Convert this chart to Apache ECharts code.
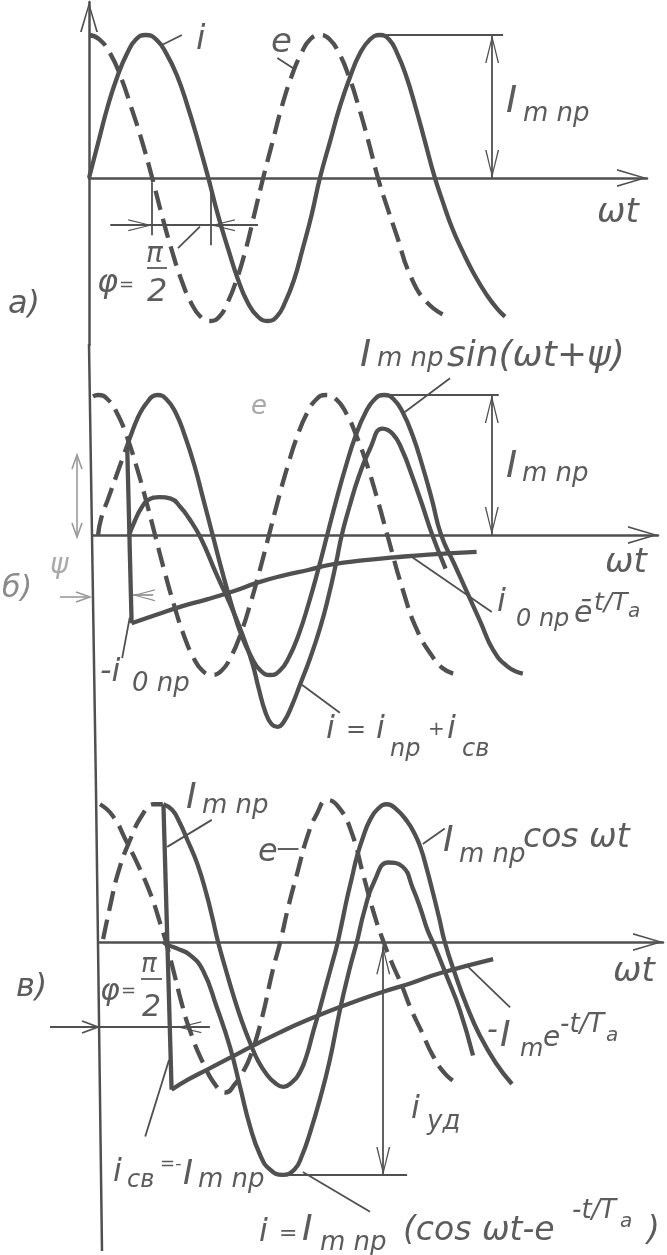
<!DOCTYPE html>
<html>
<head>
<meta charset="utf-8">
<script src="https://cdn.jsdelivr.net/npm/echarts@6/dist/echarts.min.js"></script>
<style>
html,body{margin:0;padding:0;background:#fff;}
#c{width:667px;height:1255px;}
</style>
</head>
<body>
<div id="c"></div>
<script>
// ===== DATA (x = ωt in degrees from the vertical axis, y = current / I_m np) =====
// Panel а
const aE = [[0,1],[16,0.97],[33,0.87],[49,0.71],[65,0.5],[82,0.26],[98,0],[113,-0.26],[128,-0.5],[143,-0.71],[158,-0.87],[173,-0.97],[188,-1],[202,-0.97],[215,-0.87],[229,-0.71],[243,-0.5],[256,-0.26],[270,0],[285,0.26],[299,0.5],[314,0.71],[329,0.87],[343,0.97],[358,1],[373,0.97],[388,0.87],[403,0.71],[418,0.5],[433,0.26],[448,0],[462,-0.2],[477,-0.4],[498,-0.68],[524,-0.87],[555,-0.97]];
const aI = [[0,0],[15,0.26],[29,0.5],[44,0.71],[59,0.87],[73,0.97],[88,1],[104,0.97],[120,0.87],[137,0.71],[153,0.5],[169,0.26],[185,0],[200,-0.26],[216,-0.5],[231,-0.71],[246,-0.87],[262,-0.97],[277,-1],[291,-0.97],[304,-0.87],[318,-0.71],[331,-0.5],[345,-0.26],[358,0],[374,0.26],[389,0.5],[405,0.71],[420,0.87],[436,0.97],[451,1],[465,0.97],[478,0.87],[492,0.71],[506,0.5],[520,0.27],[535,0.02],[548,-0.16],[563,-0.35],[580,-0.52],[598,-0.68],[617,-0.82],[632,-0.91],[645,-0.97]];
// Panel б
const bE = [[0,0.99],[8,1],[23,0.97],[38,0.87],[53,0.71],[68,0.5],[83,0.26],[98,0],[113,-0.26],[128,-0.5],[143,-0.71],[158,-0.87],[173,-0.97],[188,-1],[203,-0.97],[218,-0.87],[233,-0.71],[248,-0.5],[263,-0.26],[278,0],[293,0.26],[308,0.5],[323,0.71],[338,0.87],[353,0.97],[368,1],[384,0.97],[400,0.87],[416,0.71],[433,0.5],[449,0.26],[465,0],[490,-0.4],[512,-0.68],[535,-0.86],[552,-0.95],[569,-0.99]];
const bPre = [[8,0],[13,0.12],[24,0.26],[39,0.45],[54,0.64]];
const bSteady = [[54,0.64],[62,0.74],[70,0.83],[78,0.9],[86,0.95],[94,0.99],[102,1],[116,0.97],[131,0.87],[145,0.71],[160,0.5],[174,0.26],[189,0],[204,-0.26],[219,-0.5],[234,-0.71],[250,-0.87],[265,-0.97],[280,-1],[295,-0.97],[310,-0.87],[325,-0.71],[340,-0.5],[355,-0.26],[370,0],[385,0.26],[400,0.5],[415,0.71],[430,0.87],[445,0.97],[460,1],[475,0.97],[490,0.87],[505,0.71],[520,0.5],[535,0.26],[550,0],[570,-0.2],[591,-0.41],[612,-0.62],[632,-0.82],[655,-0.94],[679,-0.99]];
const bJump = [[54,0.64],[61,-0.63]];
const bFree = [[61,-0.63],[100,-0.57],[140,-0.51],[180,-0.46],[223,-0.4],[260,-0.34],[300,-0.29],[340,-0.25],[378,-0.21],[430,-0.18],[476,-0.16],[530,-0.14],[606,-0.12]];
const bTotal = [[57,0],[66,0.1],[76,0.19],[87,0.25],[105,0.27],[123,0.26],[138,0.2],[150,0.13],[170,-0.02],[195,-0.28],[222,-0.55],[240,-0.76],[252,-0.92],[262,-1.1],[272,-1.26],[282,-1.35],[292,-1.37],[302,-1.33],[314,-1.22],[327,-1.07],[343,-0.88],[359,-0.66],[372,-0.44],[384,-0.2],[393,0],[405,0.2],[420,0.42],[438,0.62],[457,0.76],[474,0.72],[489,0.6],[501,0.46],[519,0.23],[536,0],[557,-0.24]];
// Panel в
const cE = [[0,0.97],[20,0.89],[43,0.7],[64,0.51],[82,0.32],[96,0.13],[105,0],[118,-0.22],[130,-0.43],[143,-0.62],[164,-0.85],[186,-1.02],[200,-1.06],[215,-1],[227,-0.92],[239,-0.81],[257,-0.55],[275,-0.2],[287,0],[300,0.25],[315,0.5],[330,0.74],[345,0.9],[362,1],[380,0.95],[400,0.78],[420,0.46],[435,0.22],[450,0.02],[465,-0.15],[480,-0.3],[495,-0.47],[512,-0.63],[530,-0.8],[550,-0.93],[570,-1]];
const cPre = [[5,0.02],[16,0.25],[29,0.49],[48,0.72],[68,0.9],[85,0.97],[100,0.97]];
const cSteady = [[101,0.97],[115,0.93],[127,0.84],[139,0.72],[155,0.55],[170,0.33],[179,0.17],[188,0],[200,-0.19],[212,-0.37],[226,-0.56],[240,-0.72],[252,-0.84],[265,-0.93],[278,-0.99],[292,-1.02],[305,-0.99],[318,-0.92],[329,-0.8],[339,-0.64],[350,-0.47],[361,-0.29],[369,-0.16],[377,-0.03],[385,0.13],[393,0.3],[401,0.45],[409,0.6],[419,0.74],[430,0.86],[443,0.94],[457,0.97],[473,0.93],[489,0.85],[500,0.77],[510,0.67],[520,0.52],[530,0.35],[540,0.17],[549,0],[565,-0.22],[584,-0.45],[605,-0.66],[630,-0.85],[656,-1]];
const cJump = [[101,0.97],[114,-1.04]];
const cFree = [[114,-1.04],[140,-0.97],[170,-0.9],[205,-0.82],[244,-0.73],[285,-0.64],[330,-0.55],[393,-0.44],[451,-0.35],[495,-0.29],[541,-0.22],[626,-0.12]];
const cTotal = [[101,0],[108,-0.02],[125,-0.05],[143,-0.09],[164,-0.2],[186,-0.46],[207,-0.74],[223,-1.02],[239,-1.3],[255,-1.5],[270,-1.6],[291,-1.64],[310,-1.6],[322,-1.5],[334,-1.35],[350,-1.11],[366,-0.83],[382,-0.48],[398,-0.18],[409,0],[421,0.22],[437,0.43],[459,0.56],[482,0.53],[498,0.38],[510,0.24],[521,0.09],[533,-0.03],[552,-0.24],[573,-0.48],[594,-0.8]];

// ===== ANNOTATION GEOMETRY (data coords) =====
const aImLevel = [[451,1],[642,1]];
const aImDim = [[625,0],[625,1]];
const aPhiLine = [[33,-0.33],[262,-0.33]];
const aPhiExt = [[[98,-0.03],[98,-0.4]],[[189,-0.03],[189,-0.47]]];
const aLeaders = [[[138,-0.49],[172,-0.34]],[[113,0.93],[144,1]],[[292,0.84],[319,0.76]]];
const bImLevel = [[458,1],[641,1]];
const bImDim = [[630,0],[630,1]];
const bLeaders = [[[564,1.12],[490,0.87]],[[505,-0.16],[630,-0.55]],[[46,-0.88],[58,-0.59]],[[330,-1.07],[390,-1.27]]];
const cUdLevel = [[291,-1.64],[489,-1.64]];
const cUdDim = [[451,-0.03],[451,-1.64]];
const cPhiLine = [[0,-0.6],[175,-0.6]];
const cLeaders = [[[178,0.86],[107,0.67]],[[283,0.66],[316,0.66]],[[549,0.8],[514,0.69]],[[585,-0.17],[653,-0.46]],[[72,-1.37],[110,-0.83]],[[323,-1.62],[430,-1.9]]];

// ===== LAYOUT / STYLE =====
const INK = '#505050', TXT = '#5c5c5c', FAINT = '#9a9a9a';
const CHEV = 'path://M9,0 L18,30 L16.2,30 L9,5 L1.8,30 L0,30 Z';
const K = [0.645, 0.633, 0.628];
const X0 = [89, 93, 100];
const TIP = [647, 658, 663];
const TOPS = [2, 345, 790];
const BOTS = [345, 790, 1250];
const Y0 = [178, 535, 942];
const AMP = [143, 140, 142];

const grids = [], xAxes = [], yAxes = [];
for (let i = 0; i < 3; i++) {
  grids.push({left: X0[i], top: TOPS[i], width: TIP[i] - X0[i], height: BOTS[i] - TOPS[i], containLabel: false, outerBoundsMode: 'none'});
  xAxes.push({type: 'value', gridIndex: i, min: 0, max: (TIP[i] - X0[i]) / K[i],
    axisLine: {show: true, onZero: true, lineStyle: {color: INK, width: 2.5}, symbol: ['none', CHEV], symbolSize: [18, 30], symbolOffset: [0, -15]},
    axisTick: {show: false}, axisLabel: {show: false}, splitLine: {show: false}});
  yAxes.push({type: 'value', gridIndex: i, max: (Y0[i] - TOPS[i]) / AMP[i], min: -(BOTS[i] - Y0[i]) / AMP[i],
    axisLine: {show: i === 0, onZero: false, lineStyle: {color: INK, width: 2.5}, symbol: ['none', CHEV], symbolSize: [18, 30], symbolOffset: [0, -15]},
    axisTick: {show: false}, axisLabel: {show: false}, splitLine: {show: false}});
}

function seg(p, q, o) {
  o = o || {};
  const sz = o.size || [13, 24];
  const ls = {color: o.color || INK, width: o.w || 1.8, type: 'solid'};
  const end = (c, arrow) => ({coord: c, symbol: arrow ? CHEV : 'none', symbolSize: sz, symbolOffset: [0, sz[1] / 2], lineStyle: ls});
  return [end(p, o.a0), end(q, o.a1)];
}
function curve(data, gi, opt) {
  opt = opt || {};
  return {type: 'line', xAxisIndex: gi, yAxisIndex: gi, data: data, symbol: 'none', showSymbol: false,
    smooth: opt.smooth === undefined ? 0.5 : opt.smooth, clip: false, silent: true, z: opt.z || 3,
    lineStyle: {color: opt.color || INK, width: opt.w || 4.3, type: opt.dash ? [20, 9] : 'solid', cap: 'butt', join: 'round'},
    markLine: opt.marks ? {silent: true, symbol: ['none', 'none'], label: {show: false}, emphasis: {disabled: true}, animation: false,
      lineStyle: {type: 'solid', color: INK, width: 1.8}, data: opt.marks} : undefined};
}

const aMarks = [
  seg(aImLevel[0], aImLevel[1]),
  seg(aImDim[0], aImDim[1], {a0: true, a1: true, size: [14, 28]}),
  seg(aPhiLine[0], aPhiLine[1]),
  seg([60, -0.33], [98, -0.33], {a1: true, size: [12, 24]}),
  seg([225, -0.33], [189, -0.33], {a1: true, size: [12, 24]}),
  ...aPhiExt.map(s => seg(s[0], s[1])),
  ...aLeaders.map(s => seg(s[0], s[1]))
];
const bMarks = [
  seg(bImLevel[0], bImLevel[1]),
  seg(bImDim[0], bImDim[1], {a0: true, a1: true, size: [14, 28]}),
  seg([95, -0.43], [63, -0.43], {a1: true, size: [12, 22], color: '#8a8a8a', w: 1.6}),
  ...bLeaders.map(s => seg(s[0], s[1]))
];
const cMarks = [
  seg(cUdLevel[0], cUdLevel[1]),
  seg(cUdDim[0], cUdDim[1], {a0: true, a1: true, size: [14, 28]}),
  seg(cPhiLine[0], cPhiLine[1]),
  seg([170, -0.6], [123, -0.6], {a1: true, size: [12, 24]}),
  ...cLeaders.map(s => seg(s[0], s[1]))
];

const series = [
  curve(aE, 0, {dash: true, marks: aMarks}),
  curve(aI, 0),
  curve(bE, 1, {dash: true, marks: bMarks}),
  curve(bPre, 1, {dash: true}),
  curve(bSteady, 1),
  curve(bJump, 1, {smooth: false}),
  curve(bFree, 1),
  curve(bTotal, 1),
  curve(cE, 2, {dash: true, marks: cMarks}),
  curve(cPre, 2, {dash: true}),
  curve(cSteady, 2),
  curve(cJump, 2, {smooth: false}),
  curve(cFree, 2),
  curve(cTotal, 2)
];

// ===== TEXT (x-left, y-middle, text, size, color) =====
const LABELS = [
  [196,40,'i',34],[271,43,'e',34],
  [506,102,'I',38],[523,114,'m np',26],[597,213,'ωt',34],
  [97,284,'φ',32],[119,285,'=',18],[146,255,'π',28],[147,293,'2',32],[8,305,'а)',32],
  [251,407,'е',26,'#a8a8a8'],
  [360,356,'I',38],[377,359,'m np',26],[447,357,'sin(ωt+ψ)',36],
  [506,467,'I',38],[522,474,'m np',26],[605,563,'ωt',34],
  [497,603,'i',32],[516,620,'0 np',24],[574,614,'ē',30],[594,603,'t/T',25],[628,612,'a',20],
  [100,673,'-i',32],[132,684,'0 np',26],
  [326,730,'i',32],[346,731,'=',24],[376,730,'i',32],[390,750,'np',24],[428,730,'+',20],[447,730,'i',32],[462,750,'cв',24],
  [2,589,'б)',30,'#8a8a8a'],[50,566,'ψ',28,'#aaaaaa'],
  [186,799,'I',36],[202,806,'m np',26],[258,853,'e',32],
  [443,842,'I',36],[459,855,'m np',26],[523,838,'cos ωt',33],[613,972,'ωt',34],
  [487,1031,'-',30],[500,1037,'I',36],[520,1050,'m',24],[543,1039,'e',28],[560,1025,'-t/T',26],[606,1036,'a',20],
  [411,1110,'i',32],[427,1122,'уд',26],
  [100,992,'φ',30],[121,991,'=',18],[141,965,'π',26],[142,1008,'2',30],[16,988,'в)',32],
  [113,1173,'i',32],[127,1181,'cв',24],[160,1164,'=-',18],[183,1175,'I',34],[198,1180,'m np',26],
  [259,1233,'i',32],[279,1234,'=',22],[302,1231,'I',36],[320,1243,'m np',26],[403,1231,'(cos ωt-e',33],[572,1211,'-t/T',26],[620,1222,'a',20],[647,1231,')',33]
];

const graphic = LABELS.map(t => ({
  type: 'text', x: t[0], y: t[1], silent: true, z: 10,
  style: {text: t[2], font: 'italic ' + t[3] + 'px "DejaVu Sans"', fill: t[4] || TXT,
    align: 'left', verticalAlign: 'middle', textAlign: 'left', textVerticalAlign: 'middle'}
}));
function gl(points, color, w) {
  graphic.push({type: 'polyline', silent: true, z: 9, shape: {points: points}, style: {stroke: color || INK, lineWidth: w || 1.8, fill: null}});
}
// continuation of the vertical axis through panels б and в (scan is slightly slanted)
gl([[89,344],[96,790],[102,1251]], INK, 2.5);
// fraction bars
gl([[147,268],[167,268]], TXT, 1.8);
gl([[141,979],[162,979]], TXT, 1.8);
// panel в: phi arrow from the left
gl([[50,1027],[98,1027]]);
gl([[82,1021],[98,1027],[82,1033]]);
// panel б faded marks
gl([[60,597],[90,597]], FAINT, 1.6);
gl([[76,592],[90,597],[76,602]], FAINT, 1.6);
gl([[77,455],[77,537]], FAINT, 1.6);
gl([[72,469],[77,455],[82,469]], FAINT, 1.6);
gl([[72,523],[77,537],[82,523]], FAINT, 1.6);

const chart = echarts.init(document.getElementById('c'), null, {renderer: 'canvas'});
chart.setOption({
  animation: false,
  backgroundColor: '#ffffff',
  grid: grids,
  xAxis: xAxes,
  yAxis: yAxes,
  series: series,
  graphic: graphic
});
</script>
</body>
</html>
